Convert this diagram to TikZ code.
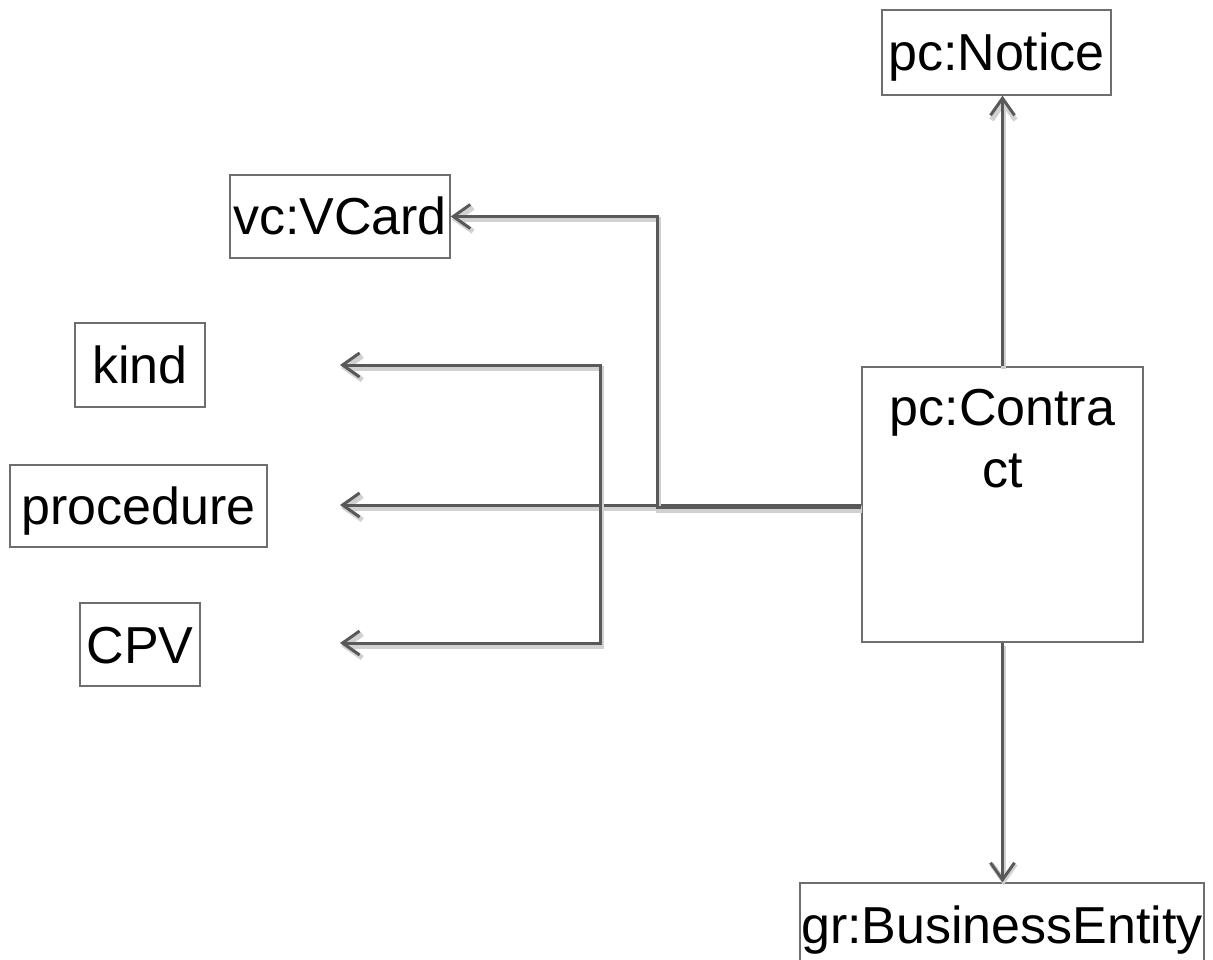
\documentclass[tikz,border=0pt]{standalone}
\usepackage{fontspec}
\setmainfont{Liberation Sans}
\usetikzlibrary{arrows.meta}
\definecolor{linegray}{HTML}{595959}
\definecolor{boxgray}{HTML}{6E6E6E}
\begin{document}
\begin{tikzpicture}[x=1pt,y=-1pt,
  every node/.style={font=\fontsize{52}{60}\selectfont},
  classbox/.style={draw=boxgray, line width=1.4pt, rectangle, inner sep=0pt,
    text height=37pt, text depth=0pt},
  link/.style={draw=linegray, line width=3pt, line join=miter,
    preaction={draw=black!18, line width=5pt, transform canvas={shift={(1pt,-3pt)}}}},
  tip/.style={-{Straight Barb[length=17pt,width=24pt]}},
  bothtips/.style={{Straight Barb[length=17pt,width=24pt]}-{Straight Barb[length=17pt,width=24pt]}}]
\useasboundingbox (0,0) rectangle (1213,960);

% class boxes
\node[classbox, minimum width=229pt, minimum height=85pt] (notice) at (996.5,52.5) {pc:Notice};
\node[classbox, minimum width=220pt, minimum height=83pt] (vcard) at (340,216.5) {vc:VCard};
\node[classbox, minimum width=130pt, minimum height=84pt] (kind) at (140,365) {kind};
\node[classbox, minimum width=257pt, minimum height=82pt] (procedure) at (138.5,506) {procedure};
\node[classbox, minimum width=120pt, minimum height=83pt] (cpv) at (140,644.5) {CPV};
\node[classbox, minimum width=281pt, minimum height=275pt,
  label={[anchor=north, align=center, inner sep=0pt, yshift=-23pt,
    font=\fontsize{52}{62}\selectfont]north:pc:Contra\\ct}] (contract) at (1002.5,504.5) {};
\node[classbox, minimum width=404pt, minimum height=84pt] (entity) at (1002,925) {gr:BusinessEntity};

% free ends and bends of the connectors
\coordinate (kindend) at (340,365);
\coordinate (procend) at (340,505);
\coordinate (cpvend) at (340,643);
\coordinate (bracket) at (600,365);
\coordinate (bend) at (657,507);

% connectors
\draw[link, tip] (contract.north) -- (contract.north |- notice.south);
\draw[link, tip] (contract.south) -- (contract.south |- entity.north);
\draw[link, tip] (contract.west |- procend) -- (procend);
\draw[link, tip] (contract.west |- bend) -- (bend) -- (bend |- vcard.east) -- (vcard.east);
\draw[link, bothtips] (kindend) -- (bracket) -- (bracket |- cpvend) -- (cpvend);
\end{tikzpicture}
\end{document}
